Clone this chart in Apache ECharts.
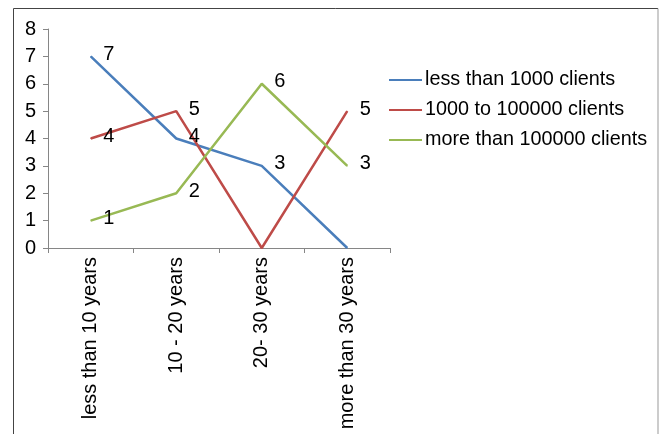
<!DOCTYPE html>
<html><head><meta charset="utf-8">
<script src="https://cdn.jsdelivr.net/npm/echarts@6/dist/echarts.min.js"></script>
<style>html,body{margin:0;padding:0;background:#fff}#c{width:661px;height:434px}</style>
</head><body><div id="c"></div>
<script>
const categories = ['less than 10 years', '10 - 20 years', '20- 30 years', 'more than 30 years'];
const seriesNames = ['less than 1000 clients', '1000 to 100000 clients', 'more than 100000 clients'];
const lessThan1000 = [7, 4, 3, 0];
const from1000to100000 = [4, 5, 0, 5];
const moreThan100000 = [1, 2, 6, 3];
const yTicks = [0, 1, 2, 3, 4, 5, 6, 7, 8];
const colors = ['#4a7ebb', '#be4b48', '#98b954'];

const chart = echarts.init(document.getElementById('c'));
const font = 'Liberation Sans, Arial, sans-serif';
const mk = (name, data, color) => ({
  name, type: 'line', data, symbol: 'circle', symbolSize: 1, showSymbol: true, color,
  itemStyle: { color },
  lineStyle: { width: 2.5, color },
  label: {
    show: true, position: 'right', distance: 12, offset: [0, -2], color: '#000', fontSize: 20, fontFamily: font,
    formatter: p => (p.value === 0 ? '' : String(p.value))
  },
  z: 3
});
chart.setOption({
  animation: false,
  backgroundColor: '#fff',
  graphic: [
    { type: 'line', shape: { x1: 13.5, y1: 8.5, x2: 658, y2: 8.5 }, style: { stroke: '#444', lineWidth: 1 } },
    { type: 'line', shape: { x1: 13.5, y1: 8.5, x2: 13.5, y2: 434 }, style: { stroke: '#444', lineWidth: 1 } },
    { type: 'line', shape: { x1: 658, y1: 8.5, x2: 658, y2: 434 }, style: { stroke: '#999', lineWidth: 1 } }
  ],
  grid: { left: 48, top: 29, right: 271, bottom: 186 },
  legend: {
    orient: 'vertical', left: 389, top: 70, padding: 0, itemGap: 10, itemWidth: 33, itemHeight: 2,
    icon: 'rect',
    textStyle: { fontSize: 19.8, lineHeight: 20, fontFamily: font, color: '#000', padding: [0, 0, 0, -2] },
    data: seriesNames
  },
  xAxis: {
    type: 'category', data: categories, boundaryGap: true,
    axisLine: { lineStyle: { color: '#868686', width: 1 } },
    axisTick: { show: true, length: 5, lineStyle: { color: '#868686' } },
    axisLabel: { rotate: 90, fontSize: 20, fontFamily: font, color: '#000', margin: 9, interval: 0 }
  },
  yAxis: {
    type: 'value', min: yTicks[0], max: yTicks[yTicks.length - 1], interval: 1,
    axisLine: { show: true, lineStyle: { color: '#868686', width: 1 } },
    axisTick: { show: true, length: 5, lineStyle: { color: '#868686' } },
    splitLine: { show: false },
    axisLabel: { fontSize: 20, fontFamily: font, color: '#000', margin: 12 }
  },
  series: [
    mk(seriesNames[0], lessThan1000, colors[0]),
    mk(seriesNames[1], from1000to100000, colors[1]),
    mk(seriesNames[2], moreThan100000, colors[2])
  ]
});
</script></body></html>
